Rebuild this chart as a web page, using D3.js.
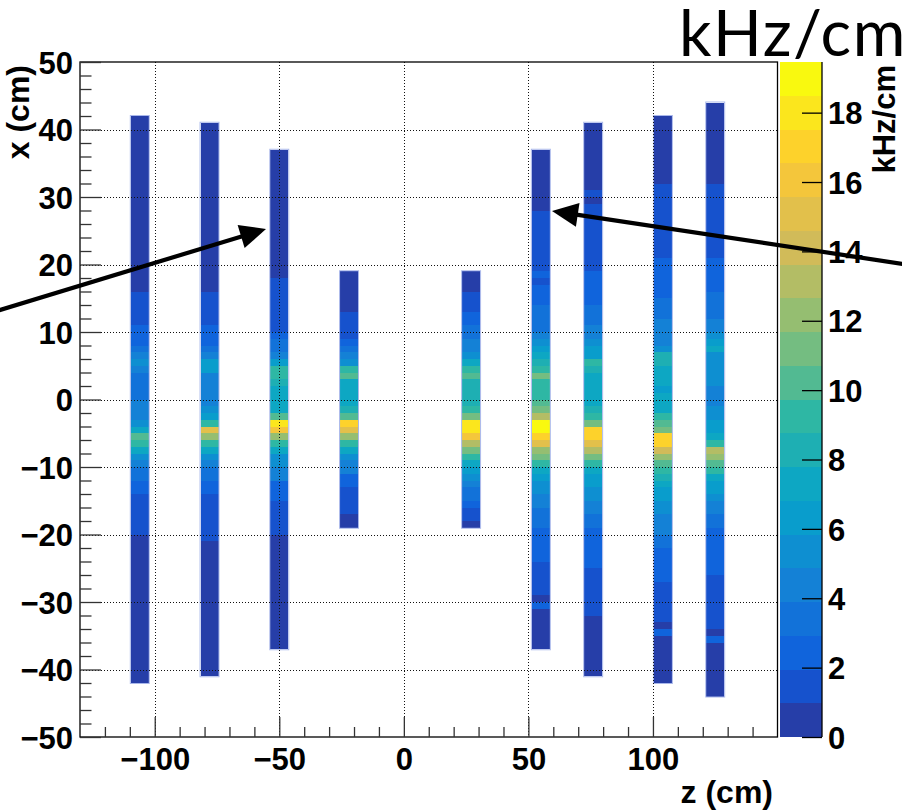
<!DOCTYPE html>
<html><head><meta charset="utf-8">
<script src="https://cdn.jsdelivr.net/npm/d3@7"></script>
<style>body{margin:0;background:#fff}svg{display:block}</style>
</head><body>
<svg id="chart" width="902" height="812"></svg>
<script>
// ---------------- data ----------------
const barZ   = [-106, -78, -50, -22, 27, 55, 76, 104, 125];   // strip centre in z (cm)
const barTop = [42, 41, 37, 19, 19, 37, 41, 42, 44];           // top edge in x (cm); 1 cm cells going down
const barWidth = 7.2;                                           // cm
// rate per 1-cm cell (kHz/cm), listed from top to bottom
const rate1 = [0.5,0.5,0.5,0.5,0.5,0.5,0.5,0.5,0.5,0.5,
               0.5,0.5,0.5,0.5,0.5,0.5,0.5,0.5,0.5,0.5,
               0.5,0.5,0.5,0.5,0.5,0.5,
               1.5,1.5,1.5,1.5,1.5,2.4,2.4,2.4,3.4,4.4,5.3,4.4,3.4,3.4,3.4,3.4,4.4,4.4,4.4,
               5.3,7.3,10.2,9.2,7.3,5.3,4.4,3.4,3.4,2.4,2.4,1.5,1.5,1.5,1.5,1.5,1.5,
               0.5,0.5,0.5,0.5,0.5,0.5,0.5,0.5,0.5,0.5,
               0.5,0.5,0.5,0.5,0.5,0.5,0.5,0.5,0.5,0.5,0.5,0.5];
const rate2 = [0.5,0.5,0.5,0.5,0.5,0.5,0.5,0.5,0.5,0.5,
               0.5,0.5,0.5,0.5,0.5,0.5,0.5,0.5,0.5,0.5,
               0.5,0.5,0.5,0.5,0.5,
               1.5,1.5,1.5,1.5,1.5,2.4,2.4,2.4,3.4,4.4,6.3,6.3,4.4,4.4,4.4,4.4,4.4,
               5.3,6.3,9.2,14.6,12.2,9.2,7.3,5.3,4.4,3.4,3.4,2.4,2.4,
               1.5,1.5,1.5,1.5,1.5,1.5,1.5,
               0.5,0.5,0.5,0.5,0.5,0.5,0.5,0.5,0.5,0.5,
               0.5,0.5,0.5,0.5,0.5,0.5,0.5,0.5,0.5,0.5];
const rate3 = [0.5,0.5,0.5,0.5,0.5,0.5,0.5,0.5,0.5,0.5,
               0.5,0.5,0.5,0.5,0.5,0.5,0.5,0.5,0.5,
               1.5,1.5,1.5,1.5,1.5,1.5,1.5,1.5,2.4,3.4,3.4,4.4,6.3,9.2,9.2,8.3,7.3,7.3,7.3,7.3,
               10.2,18.0,16.1,12.2,9.2,7.3,5.3,5.3,4.4,4.4,2.4,2.4,2.4,1.5,1.5,1.5,1.5,1.5,
               0.5,0.5,0.5,0.5,0.5,0.5,0.5,0.5,0.5,0.5,
               0.5,0.5,0.5,0.5,0.5,0.5,0.5];
const rate4 = [0.5,0.5,0.5,0.5,0.5,0.5,1.5,1.5,1.5,1.5,2.4,3.4,4.4,5.3,9.2,10.2,7.3,7.3,7.3,7.3,
               8.3,10.2,17.0,15.1,12.2,9.2,7.3,5.3,4.4,4.4,2.4,2.4,1.5,1.5,1.5,1.5,0.5,0.5];
const rate5 = [0.5,0.5,0.5,1.5,1.5,1.5,2.4,2.4,3.4,3.4,4.4,4.4,5.3,7.3,9.2,10.2,8.3,8.3,8.3,8.3,
               9.2,11.2,18.0,18.0,16.1,13.1,11.2,9.2,7.3,6.3,5.3,4.4,3.4,3.4,2.4,1.5,1.5,0.5];
const rate6 = [0.5,0.5,0.5,0.5,0.5,0.5,0.5,0.5,0.5,
               1.5,1.5,1.5,1.5,1.5,1.5,1.5,1.5,1.5,2.4,1.5,2.4,2.4,2.4,3.4,3.4,3.4,3.4,
               4.4,5.3,6.3,7.3,8.3,9.2,11.2,9.2,9.2,9.2,10.2,11.2,13.1,19.0,19.0,17.0,15.1,12.2,
               11.2,9.2,7.3,6.3,5.3,5.3,4.4,4.4,3.4,3.4,3.4,2.4,2.4,2.4,2.4,2.4,
               1.5,1.5,1.5,1.5,1.5,0.5,2.4,0.5,0.5,0.5,0.5,0.5,0.5];
const rate7 = [0.5,0.5,0.5,0.5,0.5,0.5,0.5,0.5,0.5,0.5,1.5,0.5,
               1.5,1.5,1.5,1.5,1.5,1.5,1.5,1.5,1.5,1.5,2.4,2.4,2.4,2.4,2.4,3.4,3.4,3.4,4.4,4.4,
               5.3,6.3,6.3,9.2,8.3,7.3,7.3,7.3,7.3,7.3,8.3,9.2,11.2,17.0,17.0,15.1,13.1,11.2,
               9.2,7.3,6.3,6.3,5.3,5.3,4.4,4.4,3.4,3.4,2.4,2.4,2.4,2.4,2.4,2.4,
               1.5,1.5,1.5,1.5,1.5,1.5,1.5,0.5,0.5,0.5,0.5,0.5,0.5,0.5,0.5,0.5];
const rate8 = [0.5,0.5,0.5,0.5,0.5,0.5,0.5,0.5,0.5,0.5,
               1.5,1.5,1.5,1.5,1.5,1.5,1.5,1.5,1.5,1.5,1.5,2.4,2.4,2.4,2.4,2.4,2.4,3.4,3.4,3.4,
               4.4,4.4,4.4,4.4,5.3,8.3,8.3,7.3,7.3,7.3,6.3,7.3,7.3,7.3,9.2,10.2,11.2,17.0,17.0,
               14.1,12.2,10.2,9.2,8.3,7.3,6.3,6.3,5.3,5.3,4.4,4.4,4.4,3.4,3.4,2.4,2.4,2.4,2.4,2.4,
               1.5,1.5,1.5,1.5,1.5,1.5,0.5,2.4,0.5,0.5,0.5,0.5,0.5,0.5,0.5];
const rate9 = [0.5,0.5,0.5,0.5,0.5,0.5,0.5,0.5,0.5,0.5,0.5,0.5,
               1.5,1.5,1.5,1.5,1.5,1.5,1.5,1.5,1.5,1.5,1.5,2.4,2.4,2.4,2.4,2.4,3.4,3.4,3.4,3.4,
               4.4,4.4,5.3,6.3,7.3,5.3,5.3,5.3,5.3,5.3,4.4,4.4,4.4,5.3,5.3,6.3,6.3,7.3,9.2,13.1,
               12.2,10.2,9.2,7.3,6.3,6.3,5.3,4.4,4.4,3.4,3.4,2.4,2.4,2.4,2.4,2.4,2.4,2.4,
               1.5,1.5,1.5,1.5,1.5,1.5,1.5,1.5,0.5,2.4,0.5,0.5,0.5,0.5,0.5,0.5,0.5,0.5];
const barRates = [rate1, rate2, rate3, rate4, rate5, rate6, rate7, rate8, rate9];

const zTicksMajor = [-100, -50, 0, 50, 100];
const zTicksMinor = [-120,-110,-90,-80,-70,-60,-40,-30,-20,-10,10,20,30,40,60,70,80,90,110,120,130,140];
const xTicksMajor = [-50,-40,-30,-20,-10,0,10,20,30,40,50];
const xTicksMinor = [-48,-46,-44,-42,-38,-36,-34,-32,-28,-26,-24,-22,-18,-16,-14,-12,-8,-6,-4,-2,
                     2,4,6,8,12,14,16,18,22,24,26,28,32,34,36,38,42,44,46,48];
const paletteTicks = [0, 2, 4, 6, 8, 10, 12, 14, 16, 18];
const zMax = 19.46;
const nContours = 20;

// ---------------- ROOT kBird palette ----------------
const stops = [0.0, 0.125, 0.25, 0.375, 0.5, 0.625, 0.75, 0.875, 1.0];
const red   = [0.2082, 0.0592, 0.0780, 0.0232, 0.1802, 0.5301, 0.8186, 0.9956, 0.9764];
const green = [0.1664, 0.3599, 0.5041, 0.6419, 0.7178, 0.7492, 0.7328, 0.7862, 0.9832];
const blue  = [0.5293, 0.8684, 0.8385, 0.7914, 0.6425, 0.4662, 0.3499, 0.1968, 0.0539];
const NCOL = 255;
const palette = [];
for (let g = 1; g < stops.length; g++) {
  const n = Math.floor(NCOL * stops[g]) - Math.floor(NCOL * stops[g - 1]);
  for (let c = 0; c < n; c++) {
    const r = red[g-1] + c * (red[g] - red[g-1]) / n;
    const gg = green[g-1] + c * (green[g] - green[g-1]) / n;
    const b = blue[g-1] + c * (blue[g] - blue[g-1]) / n;
    palette.push(d3.rgb(r * 255, gg * 255, b * 255).formatHex());
  }
}
function bandColor(i) { return palette[Math.min(NCOL - 1, Math.floor((i + 0.99) * NCOL / nContours))]; }
function valueColor(v) {
  const i = Math.max(0, Math.min(nContours - 1, Math.floor(v / zMax * nContours)));
  return bandColor(i);
}

// ---------------- layout ----------------
const svg = d3.select("#chart");
const FONT = "'Liberation Sans', Arial, Helvetica, sans-serif";
const xS = d3.scaleLinear().domain([-130, 150]).range([80, 777.5]);   // z (cm)
const yS = d3.scaleLinear().domain([-50, 50]).range([737, 62]);       // x (cm)
const cS = d3.scaleLinear().domain([0, zMax]).range([737, 62]);       // kHz/cm
const cbX0 = 780, cbX1 = 822;

// ---------------- cells ----------------
const cells = [];
barRates.forEach((arr, b) => {
  arr.forEach((v, i) => cells.push({z: barZ[b], top: barTop[b] - i, v}));
});
svg.append("g").selectAll("rect").data(cells).join("rect")
  .attr("x", d => xS(d.z - barWidth / 2))
  .attr("width", d => xS(d.z + barWidth / 2) - xS(d.z - barWidth / 2))
  .attr("y", d => yS(d.top))
  .attr("height", d => yS(d.top - 1) - yS(d.top))
  .attr("fill", d => valueColor(d.v))
  .attr("shape-rendering", "crispEdges");
// strip outlines
svg.append("g").selectAll("rect").data(barZ).join("rect")
  .attr("x", (z) => xS(z - barWidth / 2) - 0.5)
  .attr("width", (z) => xS(z + barWidth / 2) - xS(z - barWidth / 2) + 1)
  .attr("y", (z, i) => yS(barTop[i]) - 0.5)
  .attr("height", (z, i) => yS(barTop[i] - barRates[i].length) - yS(barTop[i]) + 1)
  .attr("fill", "none").attr("stroke", "#a9b7ea").attr("stroke-width", 1);

// ---------------- grid ----------------
const grid = svg.append("g").attr("stroke", "#111").attr("stroke-width", 1)
  .attr("stroke-dasharray", "1,2");
grid.selectAll("line.gx").data(zTicksMajor).join("line").attr("class", "gx")
  .attr("x1", d => Math.round(xS(d)) + 0.5).attr("x2", d => Math.round(xS(d)) + 0.5)
  .attr("y1", yS(50)).attr("y2", yS(-50));
grid.selectAll("line.gy").data(xTicksMajor.filter(d => d > -50 && d < 50)).join("line").attr("class", "gy")
  .attr("y1", d => Math.round(yS(d)) + 0.5).attr("y2", d => Math.round(yS(d)) + 0.5)
  .attr("x1", xS(-130)).attr("x2", xS(150));

// ---------------- frame & axes ----------------
svg.append("rect").attr("x", xS(-130)).attr("y", yS(50))
  .attr("width", xS(150) - xS(-130)).attr("height", yS(-50) - yS(50))
  .attr("fill", "none").attr("stroke", "#000").attr("stroke-width", 1.3);

function styleAxis(g, size) {
  g.select(".domain").remove();
  g.selectAll(".tick line").attr("stroke", "#333").attr("stroke-width", 1.3);
  g.selectAll("text").attr("font-family", FONT).attr("font-weight", "bold")
    .attr("font-size", size).attr("fill", "#000");
}
const axB = svg.append("g").attr("transform", `translate(0,${yS(-50)})`)
  .call(d3.axisBottom(xS).tickValues(zTicksMajor).tickSize(-20).tickPadding(11).tickFormat(d3.format("d")));
styleAxis(axB, 31);
const axBm = svg.append("g").attr("transform", `translate(0,${yS(-50)})`)
  .call(d3.axisBottom(xS).tickValues(zTicksMinor).tickSize(-10).tickFormat(""));
styleAxis(axBm, 30);

const axL = svg.append("g").attr("transform", `translate(${xS(-130)},0)`)
  .call(d3.axisLeft(yS).tickValues(xTicksMajor).tickSize(-21).tickPadding(7).tickFormat(d3.format("d")));
styleAxis(axL, 31);
axL.selectAll("text").attr("dy", "0.36em");
const axLm = svg.append("g").attr("transform", `translate(${xS(-130)},0)`)
  .call(d3.axisLeft(yS).tickValues(xTicksMinor).tickSize(-11.5).tickFormat(""));
styleAxis(axLm, 30);

// axis titles
svg.append("text").attr("x", 773).attr("y", 803).attr("text-anchor", "end")
  .attr("font-family", FONT).attr("font-weight", "bold").attr("font-size", 32).text("z (cm)");
svg.append("text").attr("transform", "translate(28.5,65) rotate(-90)").attr("text-anchor", "end")
  .attr("font-family", FONT).attr("font-weight", "bold").attr("font-size", 32).text("x (cm)");

// ---------------- colour bar ----------------
const bands = d3.range(nContours);
svg.append("g").selectAll("rect").data(bands).join("rect")
  .attr("x", cbX0).attr("width", cbX1 - cbX0)
  .attr("y", i => cS((i + 1) * zMax / nContours))
  .attr("height", i => cS(i * zMax / nContours) - cS((i + 1) * zMax / nContours))
  .attr("fill", i => bandColor(i)).attr("shape-rendering", "crispEdges");
svg.append("line").attr("x1", cbX1).attr("x2", cbX1).attr("y1", cS(0)).attr("y2", cS(zMax))
  .attr("stroke", "#000").attr("stroke-width", 1.3);
const axC = svg.append("g").attr("transform", `translate(${cbX1},0)`)
  .call(d3.axisRight(cS).tickValues(paletteTicks).tickSize(-20).tickPadding(6).tickFormat(d3.format("d")));
styleAxis(axC, 31);
axC.selectAll(".tick line").attr("stroke", "#000");
axC.selectAll("text").attr("dy", "0.36em");
svg.append("text").attr("transform", "translate(895,65) rotate(-90)").attr("text-anchor", "end")
  .attr("font-family", FONT).attr("font-weight", "bold").attr("font-size", 31).text("kHz/cm");

// big unit label
svg.append("text").attr("x", 679).attr("y", 56)
  .attr("font-family", "Lato, 'Open Sans', sans-serif").attr("font-weight", 400)
  .attr("font-size", 64).attr("letter-spacing", 1.5).attr("fill", "#000").text("kHz/cm");

// ---------------- arrows ----------------
function arrow(x0, y0, x1, y1) {
  const ang = Math.atan2(y1 - y0, x1 - x0);
  const L = 26, W = 12;
  const bx = x1 - L * Math.cos(ang), by = y1 - L * Math.sin(ang);
  svg.append("line").attr("x1", x0).attr("y1", y0).attr("x2", bx + 3 * Math.cos(ang)).attr("y2", by + 3 * Math.sin(ang))
    .attr("stroke", "#000").attr("stroke-width", 4.2);
  const px = -Math.sin(ang) * W, py = Math.cos(ang) * W;
  svg.append("path").attr("d", `M${x1},${y1}L${bx + px},${by + py}L${bx - px},${by - py}Z`).attr("fill", "#000");
}
arrow(-5, 311.5, 266, 229);
arrow(910, 265, 552, 211);
</script>
</body></html>
